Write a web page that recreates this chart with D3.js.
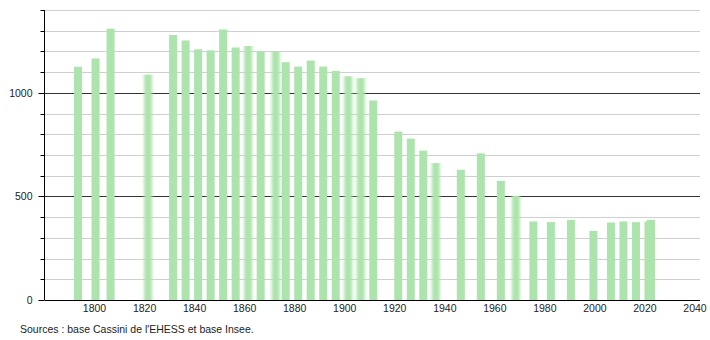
<!DOCTYPE html>
<html>
<head>
<meta charset="utf-8">
<script src="https://cdn.jsdelivr.net/npm/d3@7"></script>
<style>
  body { margin: 0; background: #fff; }
  svg { font-family: "Liberation Sans", Arial, sans-serif; }
  .grid { stroke: #cfcfcf; stroke-width: 1; }
  .grid.major { stroke: #333; }
  .bar { fill: #ade3ad; }
  .lbl { font-size: 10.5px; fill: #222; }
</style>
</head>
<body>
<div id="graph"></div>
<script>
// census years and population
let years = [1793, 1800, 1806, 1821, 1831, 1836, 1841, 1846, 1851, 1856,
             1861, 1866, 1872, 1876, 1881, 1886, 1891, 1896, 1901, 1906,
             1911, 1921, 1926, 1931, 1936, 1946, 1954, 1962, 1968, 1975,
             1982, 1990, 1999, 2006, 2011, 2016, 2021, 2022];
let population = [1126, 1166, 1310, 1088, 1279, 1253, 1210, 1205, 1306, 1219,
                  1226, 1201, 1198, 1148, 1127, 1156, 1127, 1106, 1080, 1071,
                  963, 813, 779, 721, 661, 629, 708, 575, 503, 379,
                  376, 387, 334, 374, 379, 376, 379, 387];
let xTicks = [1800, 1820, 1840, 1860, 1880, 1900, 1920, 1940, 1960, 1980, 2000, 2020, 2040];
let yTicks = [0, 500, 1000];
let yGrid = d3.range(100, 1401, 100);
// bars that look soft in the original rendering
let softYears = [1821, 1861, 1872, 1901, 1906, 1936, 1968];
let source = "Sources : base Cassini de l'EHESS et base Insee.";

let width = 710, height = 340;

let x = d3.scaleLinear().domain([1780, 2042]).range([44.5, 700]);
let y = d3.scaleLinear().domain([0, 1400]).range([300, 10]);

let svg = d3.select("#graph").append("svg")
    .attr("width", width)
    .attr("height", height);

svg.append("defs").append("filter")
    .attr("id", "soft")
    .attr("x", "-60%").attr("width", "220%")
  .append("feGaussianBlur")
    .attr("stdDeviation", "1.8 0");

// gridlines
svg.append("g").selectAll("line")
    .data(yGrid)
  .enter().append("line")
    .attr("class", d => d % 500 == 0 ? "grid major" : "grid")
    .attr("x1", 44.5)
    .attr("x2", 700)
    .attr("y1", d => Math.round(y(d)) + 0.5)
    .attr("y2", d => Math.round(y(d)) + 0.5);

// bars
svg.append("g").selectAll("rect")
    .data(years)
  .enter().append("rect")
    .attr("class", "bar")
    .attr("x", d => x(d) - 3)
    .attr("width", 8)
    .attr("y", (d, i) => y(population[i]))
    .attr("height", (d, i) => y(0) - y(population[i]))
    .attr("filter", d => softYears.includes(d) ? "url(#soft)" : null);

// y axis
let yAxis = svg.append("g").attr("transform", "translate(44.5,0)");
yAxis.append("line")
    .attr("y1", 10).attr("y2", 300)
    .attr("stroke", "#000");
yAxis.selectAll(".tick")
    .data([0].concat(yGrid))
  .enter().append("line")
    .attr("x1", d => d % 500 == 0 ? -6 : -4)
    .attr("x2", 0)
    .attr("y1", d => Math.round(y(d)) + 0.5)
    .attr("y2", d => Math.round(y(d)) + 0.5)
    .attr("stroke", "#000");
yAxis.selectAll("text")
    .data(yTicks)
  .enter().append("text")
    .attr("class", "lbl")
    .attr("x", -12)
    .attr("y", d => y(d))
    .attr("dy", "0.35em")
    .attr("text-anchor", "end")
    .text(d => d);

// x axis
svg.append("line")
    .attr("x1", 44.5).attr("x2", 700)
    .attr("y1", 300.5).attr("y2", 300.5)
    .attr("stroke", "#000");
svg.append("g").selectAll("text")
    .data(xTicks)
  .enter().append("text")
    .attr("class", "lbl")
    .attr("x", d => x(d))
    .attr("y", 312)
    .attr("text-anchor", "middle")
    .text(d => d);

svg.append("text")
    .attr("class", "lbl")
    .attr("x", 20)
    .attr("y", 333)
    .text(source);
</script>
</body>
</html>
